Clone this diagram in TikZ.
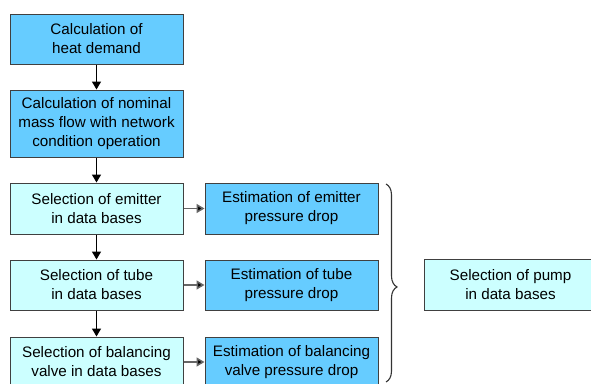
\documentclass[tikz,border=0pt]{standalone}
\usepackage{fontspec}
\setmainfont{Liberation Sans}
\usetikzlibrary{arrows.meta,decorations.pathreplacing}
\definecolor{darkbox}{HTML}{66CCFF}
\definecolor{lightbox}{HTML}{CCFFFF}
\definecolor{edge}{HTML}{404040}
\begin{document}
\begin{tikzpicture}[x=1pt,y=-1pt,
  box/.style={draw=edge,line width=1pt,inner sep=0pt,align=center,font=\fontsize{15.2}{19}\selectfont},
  arr/.style={-{Triangle[length=8pt,width=9pt]},line width=1.5pt},
  harr/.style={draw=gray!80!black,line width=1.5pt,-{Triangle[length=8pt,width=9pt,fill=black]}}]
\useasboundingbox (0,0) rectangle (591,383);
\clip (0,0) rectangle (591,383);
\node[box,fill=darkbox,minimum width=173pt,minimum height=50pt] (a) at (96.5,39) {Calculation of\\heat demand};
\node[box,fill=darkbox,minimum width=173pt,minimum height=67pt] (b) at (96.5,123.5) {Calculation of nominal\\mass flow with network\\condition operation};
\node[box,fill=lightbox,minimum width=173pt,minimum height=51pt] (c) at (96.5,208.5) {Selection of emitter\\in data bases};
\node[box,fill=lightbox,minimum width=173pt,minimum height=50pt] (d) at (96.5,285) {Selection of tube\\in data bases};
\node[box,fill=lightbox,minimum width=173pt,minimum height=50pt] (e) at (96.5,362) {Selection of balancing\\valve in data bases};
\node[box,fill=darkbox,minimum width=173pt,minimum height=51pt] (f) at (291.5,208.5) {Estimation of emitter\\pressure drop};
\node[box,fill=darkbox,minimum width=173pt,minimum height=50pt] (g) at (291.5,285) {Estimation of tube\\pressure drop};
\node[box,fill=darkbox,minimum width=173pt,minimum height=50pt] (h) at (291.5,362) {Estimation of balancing\\valve pressure drop};
\node[box,fill=lightbox,minimum width=172pt,minimum height=51pt,anchor=west] (p) at (424,285) {Selection of pump\\in data bases};
\draw[arr] (a) -- (b);
\draw[arr] (b) -- (c);
\draw[arr] (c) -- (d);
\draw[arr] (d) -- (e);
\draw[harr] (c) -- (f);
\draw[harr] (d) -- (g);
\draw[harr] (e) -- (h);
\coordinate (bt) at (386,184);
\coordinate (bb) at (386,382);
\draw[gray!40!black,line width=1.1pt,decorate,decoration={brace,amplitude=11pt,aspect=0.52}] (bt) -- (bb);
\end{tikzpicture}
\end{document}
